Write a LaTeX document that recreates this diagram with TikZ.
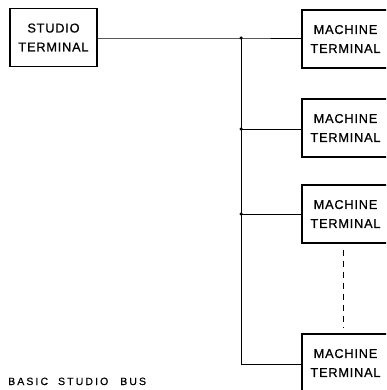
\documentclass[tikz,border=0pt]{standalone}
\usepackage{fontspec}
\setmainfont{Liberation Sans}
\newfontfamily\lblfont[LetterSpace=6,FakeBold=0.6]{Liberation Sans}
\newfontfamily\capfont[LetterSpace=20,FakeBold=0.5]{Liberation Sans}
\begin{document}
\begin{tikzpicture}[x=1pt,y=-1pt,
  term/.style={draw, line width=1.1pt, minimum width=87pt, minimum height=58pt,
    align=center, inner sep=0pt, font=\lblfont\fontsize{12.8}{19}\selectfont},
  bus/.style={line width=0.9pt},
  dot/.style={circle, fill, inner sep=0pt, minimum size=3.5pt}]
\useasboundingbox (0,0) rectangle (386,390);
\clip (0,0) rectangle (386,390);
\node[term] (st) at (53.5,37.5) {STUDIO\\TERMINAL};
\node[term] (m1) at (345.5,39) {MACHINE\\TERMINAL};
\node[term] (m2) at (345.5,128) {MACHINE\\TERMINAL};
\node[term] (m3) at (345.5,214) {MACHINE\\TERMINAL};
\node[term] (m4) at (345.5,363) {MACHINE\\TERMINAL};
\coordinate (j1) at (241,38);
\coordinate (j2) at (241,129);
\coordinate (j3) at (241,214);
\coordinate (j4) at (241,364);
\draw[bus] (st.east |- j1) -- (j1) -- (m1.west |- j1);
\draw[bus] (j1) -- (j4) -- (m4.west |- j4);
\draw[bus] (j2) -- (m2.west |- j2);
\draw[bus] (j3) -- (m3.west |- j3);
\node[dot] at (j1) {};
\node[dot] at (j2) {};
\node[dot] at (j3) {};
\draw[bus, dash pattern=on 6pt off 5pt, shorten <=6pt, shorten >=6pt]
  ([xshift=-2pt]m3.south) -- ([xshift=-2pt]m4.north);
\node[anchor=base west, inner sep=0pt, font=\capfont\fontsize{10.5}{12}\selectfont] (cap) at (8,385) {BASIC\hspace{10pt}STUDIO\hspace{12pt}BUS};
\end{tikzpicture}
\end{document}
